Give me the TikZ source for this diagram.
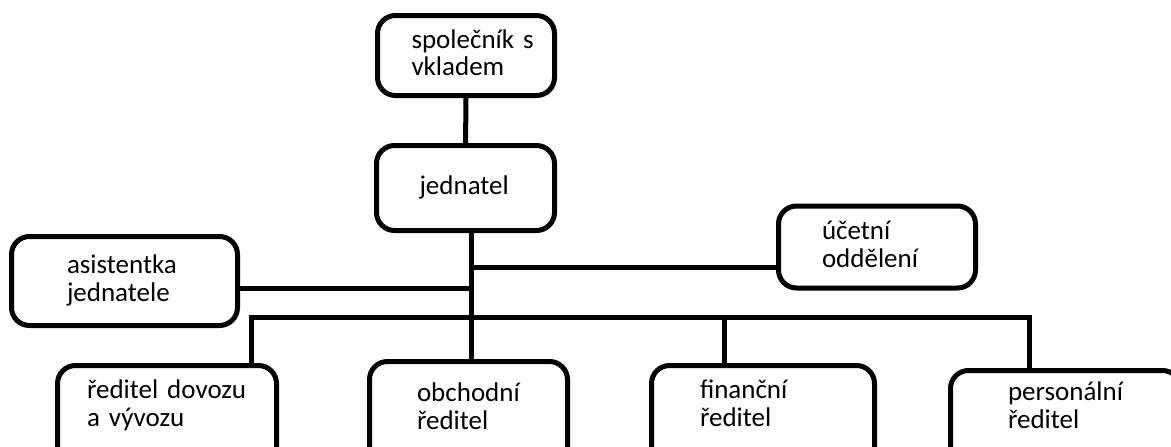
\documentclass[tikz,border=0pt]{standalone}
\usepackage{fontspec}
\setmainfont{Carlito}
\newcommand\orgstrut{\rule[-7.5pt]{0pt}{28pt}}
\begin{document}
\begin{tikzpicture}[x=1pt,y=-1pt,
  orgbox/.style={draw=black, line width=5pt, rounded corners=18pt, align=left,
    inner ysep=0pt, font=\fontsize{27}{28}\selectfont, text=black},
  conn/.style={draw=black, line width=5pt}]
\useasboundingbox[fill=white] (0,0) rectangle (1171,447);
\clip (0,0) rectangle (1171,447);
% boxes
\node[orgbox, minimum height=80pt, text width=109pt, inner xsep=34pt] (b1) at (466,55.5) {\orgstrut společník~s\\\orgstrut vkladem};
\node[orgbox, minimum height=85pt, text width=92pt, inner xsep=43pt] (b2) at (465.5,188) {\orgstrut jednatel};
\node[orgbox, minimum height=89pt, text width=115pt, inner xsep=55.5pt] (a) at (124.5,281) {\orgstrut asistentka\\\orgstrut jednatele};
\node[orgbox, minimum height=82pt, text width=110pt, inner xsep=43.5pt] (u) at (877,247) {\orgstrut účetní\\\orgstrut oddělení};
\node[orgbox, minimum height=110pt, text width=160pt, inner xsep=29.5pt] (d) at (167,420.5) {\orgstrut ředitel~dovozu\\\orgstrut a~vývozu\rule[-37.5pt]{0pt}{1pt}};
\node[orgbox, minimum height=110pt, text width=103pt, inner xsep=47.5pt] (o) at (468.5,416.5) {\orgstrut obchodní\\\orgstrut ředitel\rule[-23.5pt]{0pt}{1pt}};
\node[orgbox, minimum height=110pt, text width=126pt, inner xsep=48.5pt] (f) at (763,420.5) {\orgstrut finanční\\\orgstrut ředitel\rule[-37.5pt]{0pt}{1pt}};
\node[orgbox, minimum height=110pt, text width=115pt, inner xsep=57.5pt] (p) at (1065.5,425.5) {\orgstrut personální\\\orgstrut ředitel\rule[-43.5pt]{0pt}{1pt}};
% junction coordinates
\coordinate (ju) at (471,267);
\coordinate (ja) at (471,288);
\coordinate (t) at (471,317);
\coordinate (bl) at (251,317);
\coordinate (bf) at (724,317);
\coordinate (br) at (1029,317);
% connectors
\draw[conn] (b1) -- (b2);
\draw[conn] (b2.south -| t) -- (t);
\draw[conn] (ju) -- (ju -| u.west);
\draw[conn] (ja) -- (ja -| a.east);
\draw[conn] (d.north -| bl) -- (bl) -- (br) -- (br |- p.north);
\draw[conn] (t) -- (t |- o.north);
\draw[conn] (bf) -- (bf |- f.north);
\end{tikzpicture}
\end{document}
